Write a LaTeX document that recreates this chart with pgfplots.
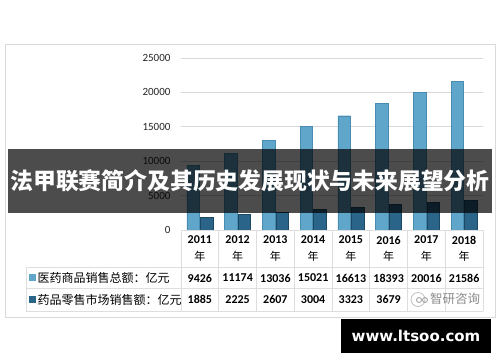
\documentclass[border=0pt]{standalone}
\usepackage{pgfplots}
\pgfplotsset{compat=1.18}
\usepackage{fontspec}
\setmainfont{Carlito}
\newfontfamily\cjk{Noto Sans CJK SC}
\newfontfamily\wm{DejaVu Sans}
\definecolor{lightbar}{RGB}{96,166,203}
\definecolor{lightedge}{RGB}{72,140,178}
\definecolor{darkbar}{RGB}{42,100,137}
\definecolor{darkedge}{RGB}{28,72,100}
\definecolor{gridc}{RGB}{217,217,217}
\definecolor{tabc}{RGB}{222,222,222}
\pgfplotstableread{
x total retail
0 9426 1885
1 11174 2225
2 13036 2607
3 15021 3004
4 16613 3323
5 18393 3679
6 20016 4003
7 21586 4317
}\datatable
\begin{document}
\begin{tikzpicture}
\fill[white] (0pt,0pt) rectangle (500pt,-362pt);
\draw[gridc, line width=0.8pt] (5pt,-44pt) rectangle (495pt,-317pt);
\begin{axis}[
  at={(181pt,-230pt)}, anchor=south west, scale only axis,
  width=302pt, height=172pt,
  xmin=-0.5, xmax=7.5, ymin=0, ymax=25000,
  ytick={0,5000,10000,15000,20000,25000},
  ymajorgrids, grid style={gridc, line width=0.8pt},
  axis line style={draw=none}, major tick length=0pt, xtick=\empty,
  scaled y ticks=false,
  /pgf/number format/assume math mode=true,
  /pgf/number format/1000 sep={},
  yticklabel style={font=\fontsize{11}{11}\selectfont, xshift=-7pt, text=black!85},
  ybar=1pt, bar width=12.5pt,
  clip=false,
]
\addplot[fill=lightbar, draw=lightedge, line width=0.4pt] table[x=x, y=total] {\datatable};
\addplot[fill=darkbar, draw=darkedge, line width=0.4pt] table[x=x, y=retail] {\datatable};
\end{axis}
% data table
\begin{scope}[tabc, line width=0.8pt]
  \draw (181pt,-230pt) -- (483pt,-230pt);
  \draw (26pt,-267pt) -- (483pt,-267pt);
  \draw (26pt,-288.5pt) -- (483pt,-288.5pt);
  \draw (26pt,-311pt) -- (483pt,-311pt);
  \draw (26pt,-267pt) -- (26pt,-311pt);
  \foreach \k in {0,...,8} {
    \draw ({181pt+\k*37.75pt},-230pt) -- ({181pt+\k*37.75pt},-311pt);
  }
\end{scope}
\foreach \yr [count=\i from 0] in {2011,2012,2013,2014,2015,2016,2017,2018} {
  \node[font=\fontsize{12}{12}\selectfont\bfseries] at ({181pt+(\i+0.5)*37.75pt},-240pt) {\yr};
  \node[font=\cjk\fontsize{11}{11}\selectfont] at ({181pt+(\i+0.5)*37.75pt},-256pt) {年};
}
\foreach \v [count=\i from 0] in {9426,11174,13036,15021,16613,18393,20016,21586} {
  \node[font=\fontsize{12}{12}\selectfont\bfseries] at ({181pt+(\i+0.5)*37.75pt},-278pt) {\v};
}
\foreach \v [count=\i from 0] in {1885,2225,2607,3004,3323,3679} {
  \node[font=\fontsize{12}{12}\selectfont\bfseries] at ({181pt+(\i+0.5)*37.75pt},-299.5pt) {\v};
}
\fill[lightbar] (29pt,-274pt) rectangle (35.5pt,-281pt);
\fill[darkbar] (29pt,-295.5pt) rectangle (35.5pt,-302.5pt);
\node[font=\cjk\fontsize{12}{12}\selectfont, anchor=west, inner sep=0pt] at (37.5pt,-278pt) {医药商品销售总额：亿元};
\node[font=\cjk\fontsize{12}{12}\selectfont, anchor=west, inner sep=0pt] at (37.5pt,-299.5pt) {药品零售市场销售额：亿元};
% watermark logo in table
\draw[black!25, line width=0.8pt] (418pt,-299.5pt) circle (7pt);
\draw[black!35, line width=0.9pt] (419pt,-300pt) circle (2.5pt);
\draw[black!35, line width=0.9pt] (425pt,-300pt) circle (2.5pt);
\node[font=\cjk\fontsize{12.5}{12}\selectfont, text=black!45, anchor=west, inner sep=0pt] at (430pt,-299pt) {智研咨询};
% title banner
\fill[black, opacity=0.7] (8pt,-149pt) rectangle (492pt,-213pt);
\node[font=\cjk\bfseries\fontsize{22.8}{24}\selectfont, text=white] at (250pt,-181pt) {法甲联赛简介及其历史发展现状与未来展望分析};
% site watermark
\fill[black] (341pt,-319pt) rectangle (491pt,-353pt);
\node[font=\wm\bfseries\fontsize{15}{15}\selectfont, text=white] at (416pt,-336pt) {www.ltsoo.com};
\end{tikzpicture}
\end{document}
